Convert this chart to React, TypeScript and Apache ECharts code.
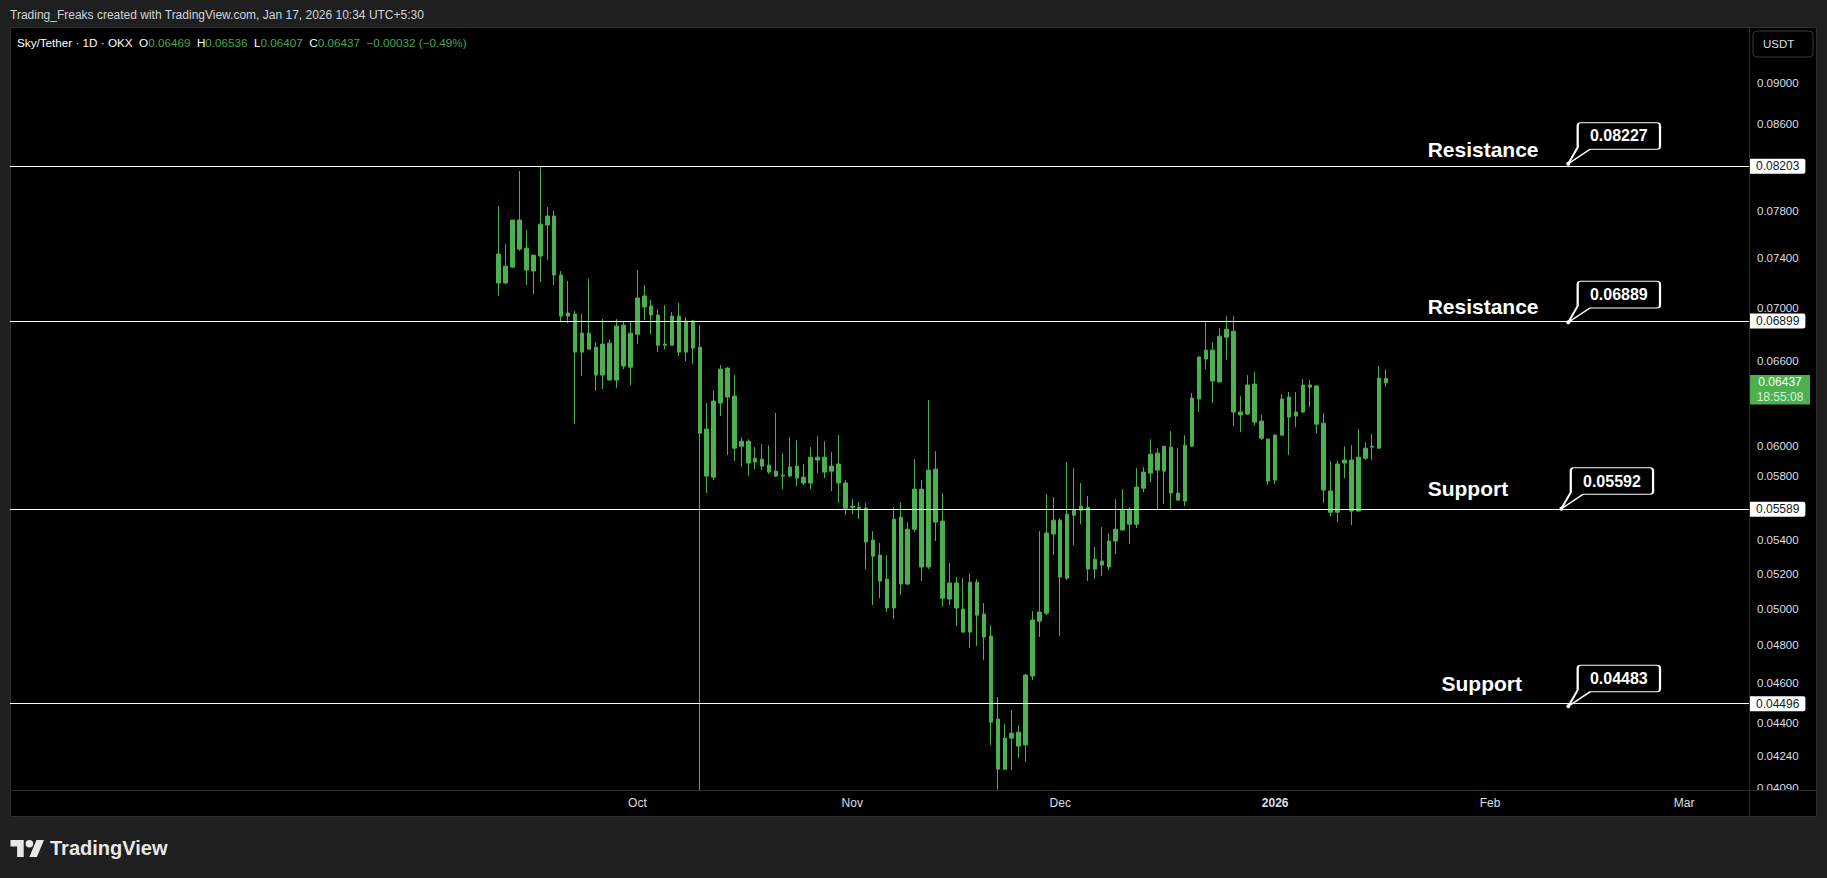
import { useEffect, useRef } from "react";
import * as echarts from "echarts";

const GREEN = "#4caf50";
const TEXT_GREEN = "#45a84a";
const TV_FONT = "'Liberation Sans', Arial, sans-serif";

// category axis: one slot per calendar day
const START_DAY = "2025-07-03";
const DAY_COUNT = 251;
const FIRST_CANDLE = "2025-09-11";

// daily candles from Sep 11 2025: [open, close, low, high]
const CANDLES: number[][] = [
  [0.07436, 0.07199, 0.07095, 0.07846],
  [0.07199, 0.07336, 0.07191, 0.07519],
  [0.07328, 0.07724, 0.0732, 0.07724],
  [0.07724, 0.07477, 0.07463, 0.0816],
  [0.07485, 0.07304, 0.07183, 0.07638],
  [0.07296, 0.07427, 0.07111, 0.07427],
  [0.07419, 0.07689, 0.07207, 0.08206],
  [0.07681, 0.07759, 0.07386, 0.07837],
  [0.07759, 0.07263, 0.07183, 0.07802],
  [0.07263, 0.06937, 0.06891, 0.07296],
  [0.06937, 0.06961, 0.06883, 0.07215],
  [0.06953, 0.06663, 0.06147, 0.06976],
  [0.06663, 0.06806, 0.06487, 0.06953],
  [0.06806, 0.06685, 0.06685, 0.0723],
  [0.067, 0.06494, 0.06379, 0.06738],
  [0.06494, 0.06723, 0.06393, 0.06914],
  [0.0673, 0.06458, 0.06458, 0.0676],
  [0.06458, 0.0686, 0.064, 0.06914],
  [0.06867, 0.0656, 0.06537, 0.06891],
  [0.06552, 0.06806, 0.06422, 0.06898],
  [0.06798, 0.07079, 0.06723, 0.07304],
  [0.07095, 0.07008, 0.06906, 0.07183],
  [0.07016, 0.06945, 0.06798, 0.07063],
  [0.06945, 0.06715, 0.06663, 0.06992],
  [0.06715, 0.06723, 0.06685, 0.07023],
  [0.06715, 0.06937, 0.06715, 0.06968],
  [0.06937, 0.06663, 0.06633, 0.07039],
  [0.06663, 0.06898, 0.06597, 0.06929],
  [0.06898, 0.06693, 0.06574, 0.06906],
  [0.067, 0.06085, 0.04082, 0.06867],
  [0.06113, 0.058, 0.05691, 0.06294],
  [0.05793, 0.06308, 0.05774, 0.06386],
  [0.06294, 0.06537, 0.06203, 0.06567],
  [0.06545, 0.06336, 0.05938, 0.06552],
  [0.06343, 0.05984, 0.05898, 0.06494],
  [0.05997, 0.06031, 0.05859, 0.06058],
  [0.06031, 0.05885, 0.058, 0.06044],
  [0.05892, 0.05917, 0.05845, 0.05991],
  [0.05911, 0.05865, 0.05839, 0.06011],
  [0.05872, 0.05826, 0.05813, 0.06004],
  [0.05832, 0.058, 0.05793, 0.06224],
  [0.058, 0.05806, 0.05716, 0.05951],
  [0.058, 0.05859, 0.05793, 0.06058],
  [0.05865, 0.05787, 0.05735, 0.06038],
  [0.05793, 0.05755, 0.05742, 0.05879],
  [0.05755, 0.05924, 0.05716, 0.05991],
  [0.05924, 0.05905, 0.05819, 0.06065],
  [0.05924, 0.05826, 0.05787, 0.06031],
  [0.05832, 0.05865, 0.05704, 0.05958],
  [0.05879, 0.05755, 0.05627, 0.06072],
  [0.05755, 0.05595, 0.05552, 0.05774],
  [0.05601, 0.05608, 0.05558, 0.05652],
  [0.05601, 0.05595, 0.05527, 0.05633],
  [0.05595, 0.05387, 0.05227, 0.05627],
  [0.05399, 0.05303, 0.05021, 0.05454],
  [0.05309, 0.05157, 0.05059, 0.05381],
  [0.05168, 0.05004, 0.04981, 0.05309],
  [0.05004, 0.05527, 0.04942, 0.05601],
  [0.05539, 0.0514, 0.05076, 0.05633],
  [0.0514, 0.05465, 0.05134, 0.05509],
  [0.05465, 0.05716, 0.05448, 0.05911],
  [0.05716, 0.05239, 0.05157, 0.05774],
  [0.05239, 0.05839, 0.05227, 0.06315],
  [0.05845, 0.05509, 0.05393, 0.05964],
  [0.05515, 0.05059, 0.05009, 0.05691],
  [0.05054, 0.05146, 0.05021, 0.05262],
  [0.05146, 0.05004, 0.04904, 0.0518],
  [0.04998, 0.04871, 0.04866, 0.05174],
  [0.04871, 0.05151, 0.04785, 0.05203],
  [0.05151, 0.04964, 0.04796, 0.05168],
  [0.0497, 0.04844, 0.04721, 0.05032],
  [0.04849, 0.04404, 0.04293, 0.04909],
  [0.04419, 0.04178, 0.04085, 0.04529],
  [0.04178, 0.04326, 0.04174, 0.04394],
  [0.04326, 0.0435, 0.04174, 0.04464],
  [0.04355, 0.04288, 0.04231, 0.04389],
  [0.04293, 0.04642, 0.04212, 0.04647],
  [0.04637, 0.04937, 0.04616, 0.04986],
  [0.04931, 0.04981, 0.04844, 0.05454],
  [0.04975, 0.05442, 0.04964, 0.05684],
  [0.05436, 0.05521, 0.05309, 0.05665],
  [0.05521, 0.0518, 0.04849, 0.05533],
  [0.05174, 0.05558, 0.05163, 0.05892],
  [0.05552, 0.05583, 0.05369, 0.05852],
  [0.05583, 0.05608, 0.05496, 0.05755],
  [0.05601, 0.05227, 0.05157, 0.05672],
  [0.05227, 0.05285, 0.05168, 0.05357],
  [0.05274, 0.0525, 0.05186, 0.05478],
  [0.05239, 0.05393, 0.05221, 0.05442],
  [0.05393, 0.05465, 0.05315, 0.05652],
  [0.0546, 0.05583, 0.0546, 0.05716],
  [0.05583, 0.05496, 0.05375, 0.05601],
  [0.05496, 0.05729, 0.05472, 0.05852],
  [0.05722, 0.05826, 0.05697, 0.05859],
  [0.05819, 0.05944, 0.05761, 0.06044],
  [0.05951, 0.05839, 0.05589, 0.05984],
  [0.05832, 0.05997, 0.05621, 0.05997],
  [0.05991, 0.05691, 0.05583, 0.06099],
  [0.05691, 0.05646, 0.05646, 0.05984],
  [0.0564, 0.06004, 0.05608, 0.06072],
  [0.05997, 0.06329, 0.05997, 0.06365],
  [0.06322, 0.06626, 0.06231, 0.06633],
  [0.06611, 0.06678, 0.06537, 0.06891],
  [0.06678, 0.06451, 0.06294, 0.06738],
  [0.06444, 0.06783, 0.06444, 0.06844],
  [0.06775, 0.06836, 0.06604, 0.06937],
  [0.06821, 0.06231, 0.06134, 0.06937],
  [0.06231, 0.0621, 0.06092, 0.06343],
  [0.06217, 0.06422, 0.0621, 0.06494],
  [0.06429, 0.06161, 0.0614, 0.06516],
  [0.06168, 0.06051, 0.06038, 0.0621],
  [0.06044, 0.05768, 0.05742, 0.06051],
  [0.05774, 0.06072, 0.05748, 0.06079],
  [0.06072, 0.06322, 0.06072, 0.06357],
  [0.06336, 0.06196, 0.05938, 0.06372],
  [0.06203, 0.06231, 0.06127, 0.06372],
  [0.06231, 0.06422, 0.06224, 0.06465],
  [0.06422, 0.06407, 0.06265, 0.06458],
  [0.06415, 0.06147, 0.06085, 0.06422],
  [0.06154, 0.0571, 0.05627, 0.06224],
  [0.05704, 0.0557, 0.05545, 0.05898],
  [0.0557, 0.05879, 0.05509, 0.05898],
  [0.05885, 0.05905, 0.05787, 0.05997],
  [0.05905, 0.05577, 0.0549, 0.06004],
  [0.05577, 0.05924, 0.05577, 0.06113],
  [0.05917, 0.05984, 0.05905, 0.06024],
  [0.05991, 0.05997, 0.05905, 0.06079],
  [0.05984, 0.06472, 0.05984, 0.0656],
  [0.06469, 0.06437, 0.06407, 0.06536],
];

// horizontal support / resistance lines
const LEVELS = [0.08203, 0.06899, 0.05589, 0.04496];
// price scale labels (log scale)
const PRICE_TICKS = [
  0.09, 0.086, 0.078, 0.074, 0.07, 0.066, 0.06, 0.058, 0.054, 0.052, 0.05,
  0.048, 0.046, 0.044, 0.0424, 0.0409,
];
const TIME_LABELS: [string, string][] = [
  ["2025-10-01", "Oct"],
  ["2025-11-01", "Nov"],
  ["2025-12-01", "Dec"],
  ["2026-01-01", "2026"],
  ["2026-02-01", "Feb"],
  ["2026-03-01", "Mar"],
];
const NOTE_TEXTS = ["Resistance", "Resistance", "Support", "Support"];
const NOTE_DATES = ["2026-01-23", "2026-01-23", "2026-01-23", "2026-01-25"];
const NOTE_LIFT = [-17, -15, -21, -20];
const CALLOUT_DATES = ["2026-02-12", "2026-02-12", "2026-02-11", "2026-02-12"];
const CALLOUT_PRICES = [0.08227, 0.06889, 0.05592, 0.04483];
const LAST_PRICE = 0.06437;
const COUNTDOWN = "18:55:08";

const Y_MIN = 0.04082;
const Y_MAX = 0.09576;

const BUBBLE =
  "path://M12.4,0L88.7,0Q91.7,0,91.7,3L91.7,23.6Q91.7,26.6,88.7,26.6L21.7,26.6L0,41L9.4,24.6L9.4,3Q9.4,0,12.4,0Z";
const LOGO_D =
  "M14 22H7V11H0V4h14v18zM28 22h-8l7.5-18h8L28 22zM24 8a4 4 0 1 1-8 0a4 4 0 1 1 8 0z";

echarts.graphic.registerShape("tvlogo", echarts.graphic.extendPath(LOGO_D, {}));

function addDays(iso: string, n: number) {
  const d = new Date(iso + "T00:00:00Z");
  d.setUTCDate(d.getUTCDate() + n);
  return d.toISOString().slice(0, 10);
}

export default function App() {
  const ref = useRef<HTMLDivElement>(null);
  useEffect(() => {
    if (!ref.current) return;
    const chart = echarts.init(ref.current, null, { renderer: "svg" });

    const days = Array.from({ length: DAY_COUNT }, (_, i) => addDays(START_DAY, i));
    const first = days.indexOf(FIRST_CANDLE);
    const data = days.map((_, i) => CANDLES[i - first] || ["-", "-", "-", "-"]);
    const timeMap: Record<string, string> = Object.fromEntries(TIME_LABELS);
    const lastDay = days[days.length - 1];

    const levelLines = LEVELS.map((v) => ({
      yAxis: v,
      lineStyle: { color: "#ffffff", width: 1, type: "solid" },
      label: {
        show: true,
        position: "end",
        distance: 0,
        formatter: v.toFixed(5),
        color: "#131722",
        backgroundColor: "#ffffff",
        padding: [2, 6, 1, 6],
        borderRadius: [0, 2, 2, 0],
        fontSize: 12,
        fontFamily: TV_FONT,
      },
    }));
    const tickLines = PRICE_TICKS.map((v) => ({
      yAxis: v,
      lineStyle: { color: "rgba(0,0,0,0)", width: 0 },
      label: {
        show: true,
        position: "end",
        distance: 7,
        formatter: v.toFixed(5),
        color: "#dcdfe6",
        fontSize: 11.5,
        fontFamily: TV_FONT,
      },
    }));

    const notes = NOTE_TEXTS.map((t, i) => ({
      coord: [NOTE_DATES[i], LEVELS[i]],
      symbol: "circle",
      symbolSize: 1,
      itemStyle: { color: "rgba(0,0,0,0)" },
      label: {
        show: true,
        position: "inside",
        align: "left",
        offset: [0, NOTE_LIFT[i]],
        formatter: t,
        color: "#ffffff",
        fontSize: 21,
        fontWeight: "bold",
        fontFamily: TV_FONT,
      },
    }));
    const callouts = CALLOUT_PRICES.map((v, i) => ({
      coord: [CALLOUT_DATES[i], v],
      symbol: BUBBLE,
      symbolSize: [91.7, 41],
      symbolOffset: [47.85, -20.5],
      symbolKeepAspect: false,
      itemStyle: { color: "#000000", borderColor: "#ffffff", borderWidth: 1.5, borderJoin: "round" },
      label: {
        show: true,
        position: "inside",
        offset: [4.7, -7.2],
        formatter: v.toFixed(5),
        color: "#ffffff",
        fontSize: 16,
        fontWeight: "bold",
        fontFamily: TV_FONT,
      },
    }));
    const dots = CALLOUT_PRICES.map((v, i) => ({
      coord: [CALLOUT_DATES[i], v],
      symbol: "circle",
      symbolSize: 4,
      symbolOffset: [2, 0],
      itemStyle: { color: "#ffffff" },
      label: { show: false },
    }));
    const lastLabel = {
      coord: [lastDay, LAST_PRICE],
      symbol: "rect",
      symbolSize: [60, 29.5],
      symbolOffset: [33.5, 6.75],
      itemStyle: { color: GREEN },
      label: {
        show: true,
        position: "inside",
        formatter: `{a|${LAST_PRICE.toFixed(5)}}\n{b|${COUNTDOWN}}`,
        rich: {
          a: { color: "#ffffff", fontSize: 12, lineHeight: 15, fontFamily: TV_FONT },
          b: { color: "#d8f0d9", fontSize: 12, lineHeight: 15, fontFamily: TV_FONT },
        },
      },
    };

    const option: any = {
      animation: false,
      backgroundColor: "#1f1f1f",
      grid: { left: 10, top: 28, width: 1740, height: 762 },
      xAxis: {
        type: "category",
        data: days,
        boundaryGap: true,
        z: 20,
        axisLine: { show: false },
        axisTick: { show: false },
        splitLine: { show: false },
        axisLabel: {
          interval: (_i: number, v: string) => v in timeMap,
          formatter: (v: string) => (v === "2026-01-01" ? `{y|${timeMap[v]}}` : timeMap[v] || ""),
          color: "#dcdfe6",
          fontSize: 12,
          fontFamily: TV_FONT,
          margin: 7,
          rich: { y: { fontWeight: "bold", color: "#dcdfe6", fontSize: 12, fontFamily: TV_FONT } },
        },
      },
      yAxis: {
        type: "log",
        logBase: 10,
        min: Y_MIN,
        max: Y_MAX,
        axisLine: { show: false },
        axisTick: { show: false },
        axisLabel: { show: false },
        splitLine: { show: false },
      },
      series: [
        {
          type: "candlestick",
          data,
          barWidth: 4,
          itemStyle: {
            color: GREEN,
            color0: GREEN,
            borderColor: GREEN,
            borderColor0: GREEN,
            borderWidth: 1,
          },
          markLine: {
            silent: true,
            precision: 6,
            symbol: ["none", "none"],
            data: [...tickLines, ...levelLines],
          },
          markPoint: {
            silent: true,
            data: [...notes, ...callouts, ...dots, lastLabel],
          },
        },
      ],
      graphic: [
        {
          type: "rect",
          z: -1,
          shape: { x: 10.5, y: 27.5, width: 1806, height: 789 },
          style: { fill: "#000000", stroke: "#2f2f2f", lineWidth: 1 },
        },
        {
          type: "rect",
          z: 10,
          shape: { x: 1750, y: 791, width: 66, height: 25 },
          style: { fill: "#000000" },
        },
        {
          type: "line",
          z: 11,
          shape: { x1: 10.5, y1: 790.5, x2: 1816, y2: 790.5 },
          style: { stroke: "#2a2a2a", lineWidth: 1 },
        },
        {
          type: "line",
          z: 11,
          shape: { x1: 1749.5, y1: 27.5, x2: 1749.5, y2: 816.5 },
          style: { stroke: "#2a2a2a", lineWidth: 1 },
        },
        {
          type: "rect",
          z: 11,
          shape: { x: 1753, y: 31, width: 60, height: 26, r: 4 },
          style: { fill: "#000000", stroke: "#3a3a3a", lineWidth: 1 },
        },
        {
          type: "text",
          z: 12,
          x: 1763,
          y: 44,
          style: {
            text: "USDT",
            fill: "#dcdfe6",
            fontSize: 11.5,
            fontFamily: TV_FONT,
            verticalAlign: "middle",
          },
        },
        {
          type: "text",
          x: 10,
          y: 15,
          style: {
            text: "Trading_Freaks created with TradingView.com, Jan 17, 2026 10:34 UTC+5:30",
            fill: "#d1d4dc",
            fontSize: 12,
            fontFamily: TV_FONT,
            verticalAlign: "middle",
          },
        },
        {
          type: "text",
          z: 12,
          x: 17,
          y: 42.3,
          style: {
            text:
              "{w|Sky/Tether · 1D · OKX}  {w|O}{g|0.06469}  {w|H}{g|0.06536}  {w|L}{g|0.06407}  {w|C}{g|0.06437}  {g|\u22120.00032 (\u22120.49%)}",
            fill: "#ffffff",
            fontSize: 11.7,
            fontFamily: TV_FONT,
            verticalAlign: "middle",
            rich: {
              w: { fill: "#ffffff", fontSize: 11.7, fontFamily: TV_FONT },
              g: { fill: TEXT_GREEN, fontSize: 11.7, fontFamily: TV_FONT },
            },
          },
        },
        {
          type: "tvlogo",
          x: 10.5,
          y: 836.2,
          scaleX: 0.944,
          scaleY: 0.944,
          style: { fill: "#e8e8e8" },
        },
        {
          type: "text",
          x: 50,
          y: 848,
          style: {
            text: "TradingView",
            fill: "#e8e8e8",
            fontSize: 20,
            fontWeight: "bold",
            fontFamily: TV_FONT,
            verticalAlign: "middle",
          },
        },
      ],
    };
    chart.setOption(option);
    return () => chart.dispose();
  }, []);
  return (
    <div
      ref={ref}
      style={{ position: "fixed", left: 0, top: 0, width: 1827, height: 878 }}
      aria-label="Sky/Tether daily candlestick chart"
    />
  );
}
